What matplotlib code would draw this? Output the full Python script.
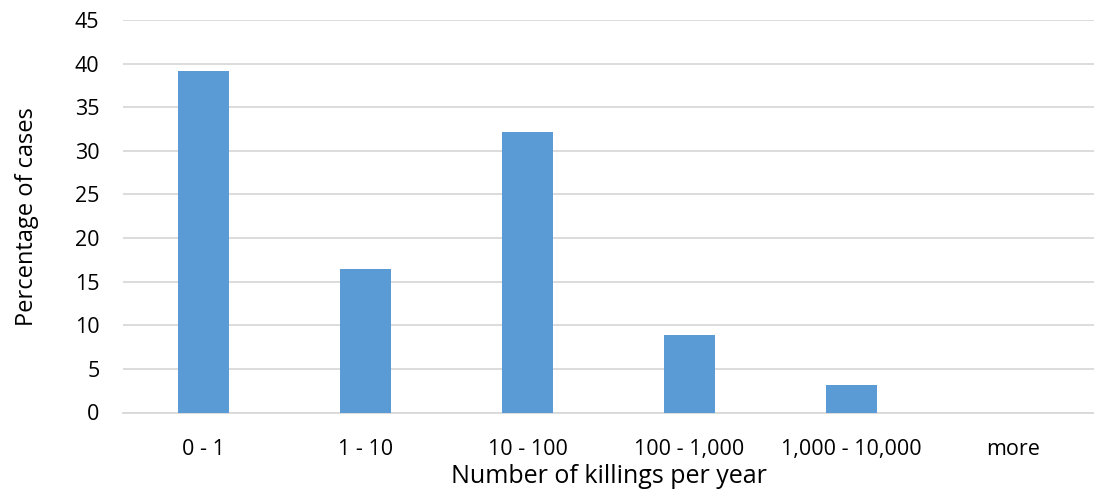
import matplotlib
matplotlib.use("Agg")
import matplotlib.pyplot as plt
import numpy as np

# Data
categories = ["0 - 1", "1 - 10", "10 - 100", "100 - 1,000", "1,000 - 10,000", "more"]
percentages = [39.2, 16.4, 32.2, 8.85, 3.1, 0.0]
y_ticks = [0, 5, 10, 15, 20, 25, 30, 35, 40, 45]

plt.rcParams["font.family"] = ["Open Sans", "DejaVu Sans"]

fig = plt.figure(figsize=(10.94, 4.96), dpi=100)
ax = fig.add_axes([123 / 1094, 1 - 412.5 / 496, 1 - 123 / 1094, (412.5 - 20) / 496])

x = np.arange(len(categories))
ax.bar(x, percentages, width=0.316, color="#5b9bd5", zorder=3)

ax.set_xlim(-0.5, len(categories) - 0.5)
ax.set_ylim(0, 45)
ax.set_yticks(y_ticks)
ax.set_xticks(x)
ax.set_xticklabels(categories)
ax.tick_params(axis="both", length=0, labelsize=15.5, colors="black")
ax.tick_params(axis="x", pad=19)
ax.tick_params(axis="y", pad=17)

# Light gray gridlines, no frame
ax.grid(axis="y", color="#d9d9d9", linewidth=1.3, zorder=0)
for side in ["top", "right", "left"]:
    ax.spines[side].set_visible(False)
ax.spines["bottom"].set_color("#d9d9d9")
ax.spines["bottom"].set_linewidth(1.3)

ax.set_xlabel("Number of killings per year", fontsize=18, labelpad=3)
ax.set_ylabel("Percentage of cases", fontsize=17, labelpad=26)

fig.savefig("out.png", dpi=100, facecolor="white")
